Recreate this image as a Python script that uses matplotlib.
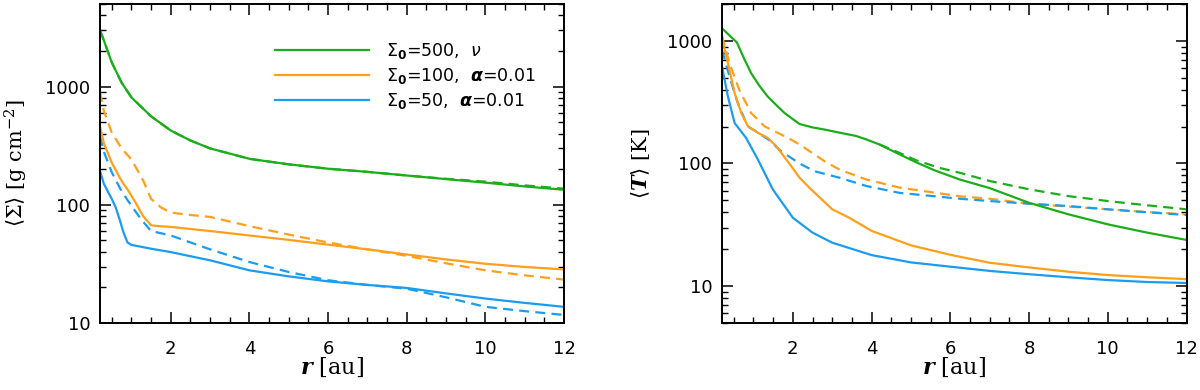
import numpy as np
import matplotlib
matplotlib.use("Agg")
import matplotlib.pyplot as plt
from matplotlib.ticker import MultipleLocator, LogLocator, NullFormatter, FuncFormatter

# ---------------- data ----------------
# Left panel: surface density <Sigma> [g cm^-2]
r_sig_green = [0.2, 0.3, 0.5, 0.75, 1.0, 1.5, 2.0, 2.5, 3.0, 4.0, 5.0, 6.0, 7.0, 8.0, 9.0, 10.0, 11.0, 12.0]
sig_green_solid = [3000, 2450, 1600, 1080, 810, 560, 425, 350, 300, 245, 220, 202, 190, 177, 165, 154, 143, 134]
sig_green_dash = [3000, 2450, 1600, 1080, 810, 560, 425, 350, 300, 245, 220, 202, 190, 177, 166, 157, 146, 137]

r_sig_orange_s = [0.2, 0.3, 0.5, 0.7, 0.8, 0.9, 1.1, 1.3, 1.5, 1.7, 2.0, 3.0, 4.0, 5.0, 6.0, 7.0, 8.0, 9.0, 10.0, 11.0, 12.0]
sig_orange_solid = [460, 330, 227, 170, 150, 135, 105, 80, 67, 66, 65, 60, 55, 50.5, 46, 42, 38, 34.5, 31.7, 29.8, 28.4]
r_sig_orange_d = [0.2, 0.3, 0.5, 0.75, 1.0, 1.3, 1.5, 1.75, 2.0, 2.5, 3.0, 4.0, 5.0, 6.0, 7.0, 8.0, 9.0, 10.0, 11.0, 12.0]
sig_orange_dash = [900, 620, 407, 300, 242, 160, 112, 95, 86, 82, 79, 66, 56, 48, 42, 37, 32, 27.9, 25.3, 23.3]

r_sig_blue_s = [0.2, 0.3, 0.5, 0.6, 0.7, 0.8, 0.9, 1.0, 1.5, 2.0, 3.0, 4.0, 5.0, 6.0, 7.0, 8.0, 9.0, 10.0, 11.0, 12.0]
sig_blue_solid = [193, 150, 112, 95, 75, 58, 48, 45.8, 42.5, 39.8, 33.9, 27.9, 24.8, 22.5, 21.0, 19.8, 17.8, 16.1, 14.8, 13.7]
r_sig_blue_d = [0.2, 0.3, 0.5, 0.75, 1.0, 1.25, 1.5, 2.0, 3.0, 4.0, 5.0, 6.0, 7.0, 8.0, 9.0, 10.0, 11.0, 12.0]
sig_blue_dash = [380, 280, 188, 130, 98, 75, 60, 55, 42, 32.8, 27, 23, 21, 19.5, 16.5, 13.7, 12.6, 11.7]

# Right panel: temperature <T> [K]
r_T_green_s = [0.2, 0.4, 0.58, 0.75, 0.94, 1.15, 1.36, 1.6, 1.79, 2.0, 2.17, 2.5, 2.81, 3.2, 3.6, 3.87,
               4.2, 4.46, 4.8, 5.14, 5.6, 6.24, 7.0, 8.0, 9.0, 10.0, 11.0, 12.0]
T_green_solid = [1268, 1100, 970, 730, 546, 430, 352, 295, 258, 230, 210, 197, 189, 178, 168, 157,
                 143, 130, 115, 102, 88, 74, 63, 47.8, 38.5, 31.9, 27.3, 23.8]
r_T_green_d = [4.2, 4.71, 5.14, 5.73, 6.24, 7.0, 8.0, 9.0, 10.0, 11.0, 12.0]
T_green_dash = [143, 122, 106, 92, 84, 72, 61.6, 54.2, 49.4, 45.6, 42.3]

r_T_orange_s = [0.2, 0.27, 0.39, 0.52, 0.69, 0.86, 1.11, 1.36, 1.58, 1.96, 2.17, 2.43, 3.0, 3.44,
                4.0, 5.0, 6.0, 7.0, 8.0, 9.0, 10.0, 11.0, 12.0]
T_orange_solid = [1083, 845, 581, 376, 258, 201, 178, 162, 138, 95, 76.6, 63, 42.3, 36,
                  28.2, 21.5, 18, 15.5, 14.2, 13.1, 12.3, 11.8, 11.4]
r_T_orange_d = [0.2, 0.39, 0.64, 0.94, 1.28, 1.87, 2.17, 2.81, 3.19, 3.87, 4.71, 6.24, 7.0, 8.0, 9.0, 10.0, 11.0, 12.0]
T_orange_dash = [1100, 658, 398, 258, 201, 162, 143, 104, 89, 74, 63.6, 54, 51.6, 47, 44.5, 42.3, 40.2, 38.5]

r_T_blue_s = [0.2, 0.35, 0.52, 0.81, 1.11, 1.49, 2.0, 2.5, 3.0, 4.0, 5.0, 6.0, 7.0, 8.0, 9.0, 10.0, 11.0, 12.0]
T_blue_solid = [618, 352, 214, 162, 108, 61.5, 36.1, 27.3, 22.6, 17.9, 15.6, 14.4, 13.3, 12.5, 11.8, 11.2, 10.8, 10.6]
r_T_blue_d = [0.2, 0.39, 0.6, 0.85, 1.1, 1.4, 1.7, 2.17, 2.55, 3.19, 3.87, 4.71, 6.24, 7.0, 8.0, 9.0, 10.0, 11.0, 12.0]
T_blue_dash = [845, 513, 312, 201, 180, 155, 126, 100, 86.5, 76.5, 65.5, 57.6, 51.6, 49.4, 47, 45, 42.3, 40, 38]

legend_labels = [r'$\Sigma_\mathbf{0}$=500,  $\nu$',
                 r'$\Sigma_\mathbf{0}$=100,  $\boldsymbol{\alpha}$=0.01',
                 r'$\Sigma_\mathbf{0}$=50,  $\boldsymbol{\alpha}$=0.01']

GREEN = '#1bae1b'
ORANGE = '#ff9f1a'
BLUE = '#1a9cf0'

plt.rcParams['font.family'] = ['DejaVu Sans']
plt.rcParams['mathtext.fontset'] = 'dejavusans'

fig = plt.figure(figsize=(12, 3.9), dpi=100)
axL = fig.add_axes([100/1200, 67/390, 464/1200, 319/390])
axR = fig.add_axes([722/1200, 67/390, 464.5/1200, 319/390])

lw = 1.6
dash = (0, (4.5, 2.8))

def style(ax):
    ax.set_yscale('log')
    ax.xaxis.set_major_locator(MultipleLocator(2))
    ax.xaxis.set_minor_locator(MultipleLocator(0.5))
    ax.yaxis.set_major_locator(LogLocator(base=10, numticks=10))
    ax.yaxis.set_minor_locator(LogLocator(base=10, subs=np.arange(2, 10), numticks=10))
    ax.yaxis.set_major_formatter(FuncFormatter(lambda v, p: '%d' % round(v)))
    ax.yaxis.set_minor_formatter(NullFormatter())
    ax.tick_params(which='both', direction='in', top=True, right=True, labelsize=13, colors='black')
    ax.tick_params(which='major', length=8, width=1.1)
    ax.tick_params(which='minor', length=4, width=1.0)
    ax.tick_params(axis='x', pad=12)
    ax.tick_params(axis='y', pad=7)
    for s in ax.spines.values():
        s.set_linewidth(1.4)
    ax.set_xlabel(r'$\boldsymbol{r}\ [\mathrm{au}]$', fontsize=16, math_fontfamily='dejavuserif')
    ax.xaxis.set_label_coords(0.5, -0.103)
    ax.xaxis.label.set_verticalalignment('top')

# Left panel
axL.plot(r_sig_green, sig_green_dash, color=GREEN, lw=lw, ls=dash)
axL.plot(r_sig_orange_d, sig_orange_dash, color=ORANGE, lw=lw, ls=dash)
axL.plot(r_sig_blue_d, sig_blue_dash, color=BLUE, lw=lw, ls=dash)
l1, = axL.plot(r_sig_green, sig_green_solid, color=GREEN, lw=lw)
l2, = axL.plot(r_sig_orange_s, sig_orange_solid, color=ORANGE, lw=lw)
l3, = axL.plot(r_sig_blue_s, sig_blue_solid, color=BLUE, lw=lw)
style(axL)
axL.set_xlim(0.2, 12)
axL.set_ylim(10, 5000)
axL.set_ylabel(r'$\langle\Sigma\rangle\ [\mathrm{g\ cm}^{-2}]$', fontsize=15, math_fontfamily='dejavuserif')
axL.yaxis.set_label_coords(-0.151, 0.5)
leg = axL.legend([l1, l2, l3], legend_labels, loc='upper left', bbox_to_anchor=(0.377, 0.885),
                 frameon=False, fontsize=12.5, handlelength=5.4, handletextpad=1.0,
                 labelspacing=0.3, borderaxespad=0, borderpad=0)

# Right panel
axR.plot(r_T_green_d, T_green_dash, color=GREEN, lw=lw, ls=dash)
axR.plot(r_T_orange_d, T_orange_dash, color=ORANGE, lw=lw, ls=dash)
axR.plot(r_T_blue_d, T_blue_dash, color=BLUE, lw=lw, ls=dash)
axR.plot(r_T_green_s, T_green_solid, color=GREEN, lw=lw)
axR.plot(r_T_orange_s, T_orange_solid, color=ORANGE, lw=lw)
axR.plot(r_T_blue_s, T_blue_solid, color=BLUE, lw=lw)
style(axR)
axR.set_xlim(0.2, 12)
axR.set_ylim(5, 2000)
axR.set_ylabel(r'$\langle\boldsymbol{T}\rangle\ [\mathrm{K}]$', fontsize=15, math_fontfamily='dejavuserif')
axR.yaxis.set_label_coords(-0.151, 0.5)

fig.savefig('out.png', dpi=100)
